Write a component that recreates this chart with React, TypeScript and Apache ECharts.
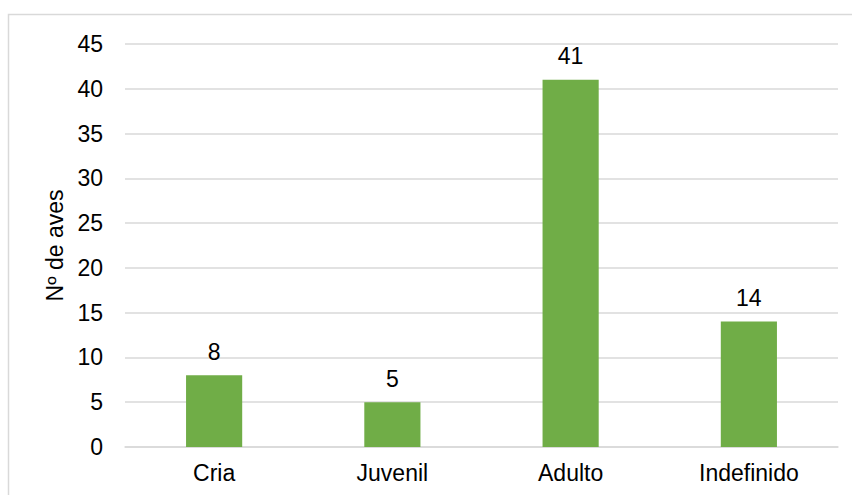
import React, { useEffect, useRef } from "react";
import * as echarts from "echarts";

const categories = ["Cria", "Juvenil", "Adulto", "Indefinido"];
const values = [8, 5, 41, 14];
const yAxisTitle = "Nº de aves";

export default function App() {
  const ref = useRef<HTMLDivElement>(null);
  useEffect(() => {
    if (!ref.current) return;
    const chart = echarts.init(ref.current, null, { renderer: "svg" });
    const font = "Liberation Sans, Arial, sans-serif";
    chart.setOption({
      animation: false,
      backgroundColor: "#ffffff",
      textStyle: { fontFamily: font },
      graphic: [
        {
          type: "rect",
          shape: { x: 8.5, y: 14.5, width: 900, height: 600 },
          style: { fill: "none", stroke: "#d9d9d9", lineWidth: 1.5 },
          silent: true,
        },
      ],
      grid: { left: 125, right: 14, top: 44, bottom: 48 },
      xAxis: {
        type: "category",
        data: categories,
        axisLine: { show: true, lineStyle: { color: "#d9d9d9", width: 1.5 } },
        axisTick: { show: false },
        axisLabel: { color: "#000000", fontSize: 23, fontFamily: font, margin: 14 },
      },
      yAxis: {
        type: "value",
        min: 0,
        max: 45,
        interval: 5,
        name: yAxisTitle,
        nameLocation: "middle",
        nameGap: 56,
        nameTextStyle: { color: "#000000", fontSize: 23, fontFamily: font },
        axisLine: { show: false },
        axisTick: { show: false },
        axisLabel: { color: "#000000", fontSize: 23, fontFamily: font, margin: 22 },
        splitLine: { lineStyle: { color: "#d9d9d9", width: 1.5 } },
      },
      series: [
        {
          type: "bar",
          data: values,
          barWidth: "31.5%",
          itemStyle: { color: "#70ad47" },
          label: {
            show: true,
            position: "top",
            distance: 12,
            color: "#000000",
            fontSize: 23,
            fontFamily: font,
          },
        },
      ],
    });
    return () => chart.dispose();
  }, []);
  return (
    <div
      ref={ref}
      style={{ position: "fixed", left: 0, top: 0, width: 852, height: 495 }}
    />
  );
}
